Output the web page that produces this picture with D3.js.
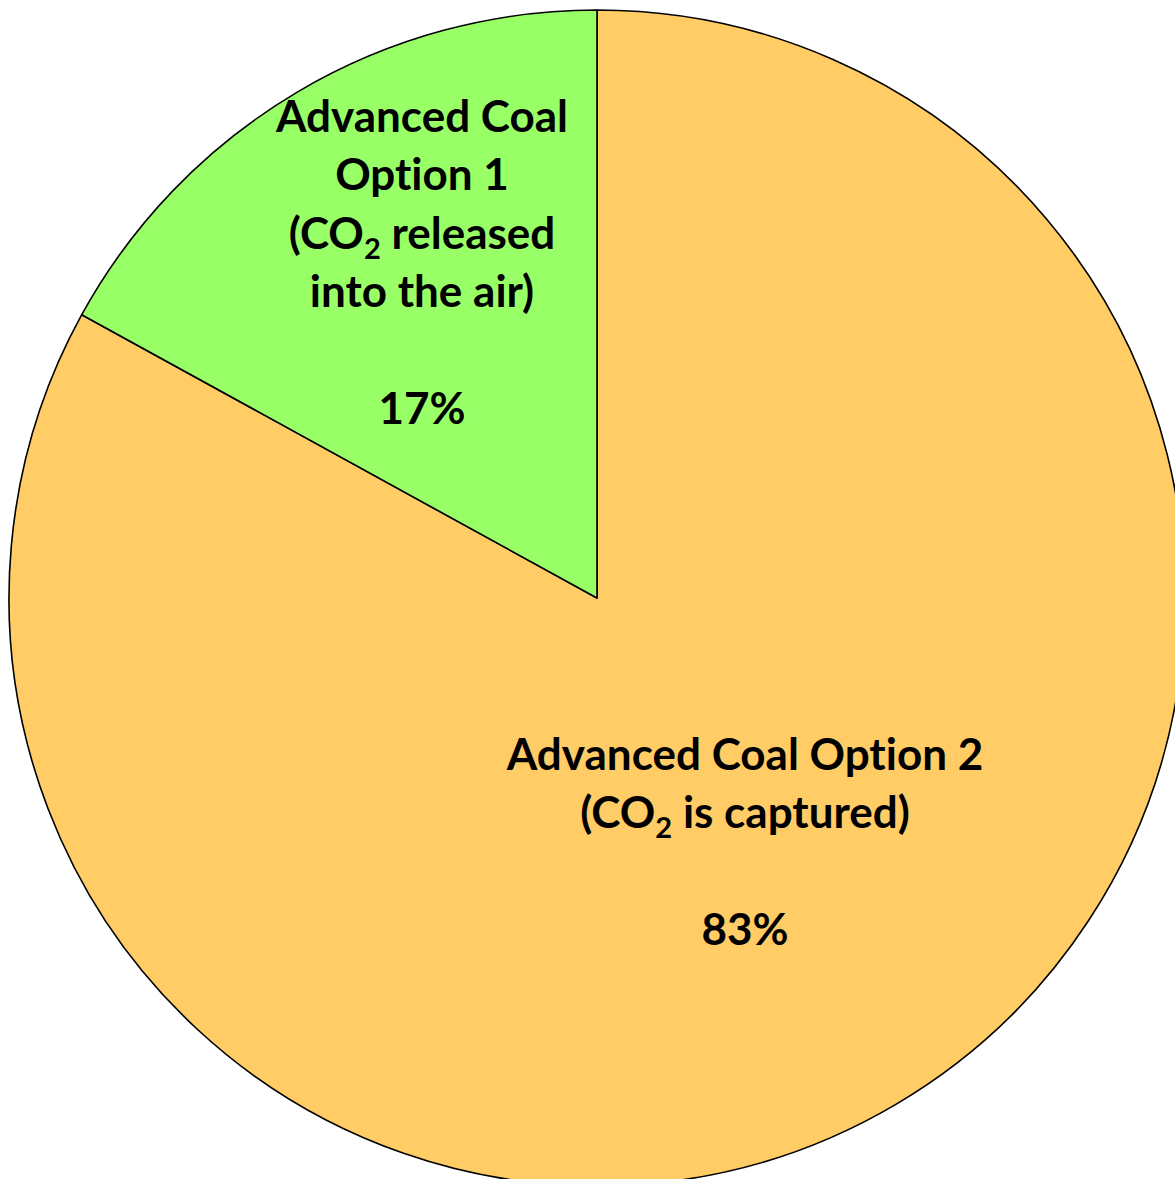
<!DOCTYPE html>
<html><head><meta charset="utf-8">
<script src="https://cdn.jsdelivr.net/npm/d3@7"></script>
<style>html,body{margin:0;padding:0;background:#fff;overflow:hidden}
text{font-variant-ligatures:none;font-feature-settings:"liga" 0,"clig" 0}</style>
</head><body>
<svg id="chart" width="1175" height="1179"></svg>
<script>
// Data
const categories = ["Advanced Coal Option 2 (CO2 is captured)", "Advanced Coal Option 1 (CO2 released into the air)"];
const values = [83, 17];
const colors = ["#FFCC66", "#99FF66"];
// label lines: arrays of segments [text, isSub]
const labelLines = [
  [[["Advanced Coal Option 2", false]], [["(CO", false], ["2", true], [" is captured)", false]], [], [["83%", false]]],
  [[["Advanced Coal", false]], [["Option 1", false]], [["(CO", false], ["2", true], [" released", false]], [["into the air)", false]], [], [["17%", false]]]
];
const labelAnchors = [[745, 770], [422, 132]]; // center x, first baseline

const svg = d3.select("#chart");
const cx = 597, cy = 598, R = 588;
const g = svg.append("g").attr("transform", `translate(${cx},${cy})`);
const pie = d3.pie().sort(null).value(d => d)(values);
const arc = d3.arc().innerRadius(0).outerRadius(R);
g.selectAll("path").data(pie).join("path")
  .attr("d", arc)
  .attr("fill", (d, i) => colors[i])
  .attr("stroke", "#000")
  .attr("stroke-width", 1.6)
  .attr("stroke-linejoin", "round");

const fs = 44, lh = 58.3;
labelLines.forEach((lines, i) => {
  const [x0, y0] = labelAnchors[i];
  lines.forEach((segs, j) => {
    if (!segs.length) return;
    const t = svg.append("text")
      .attr("x", x0).attr("y", y0 + j * lh)
      .attr("text-anchor", "middle")
      .attr("font-family", "Lato, 'Open Sans', sans-serif")
      .attr("font-weight", 700)
      .attr("font-size", fs)
      .attr("fill", "#000");
    segs.forEach(([s, sub], k) => {
      const ts = t.append("tspan").text(s);
      if (sub) ts.attr("font-size", fs * 0.66).attr("dy", 10);
      else if (k > 0 && segs[k - 1][1]) ts.attr("dy", -10);
    });
  });
});
</script>
</body></html>
